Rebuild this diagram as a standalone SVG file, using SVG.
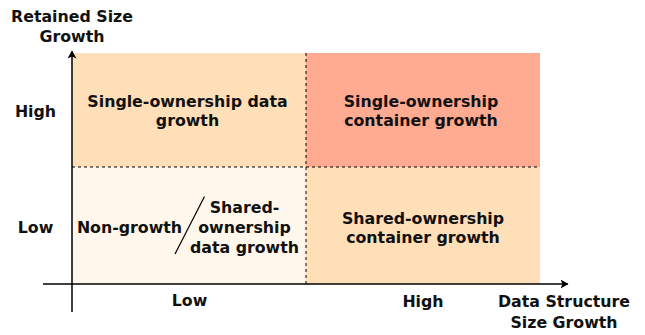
<svg xmlns="http://www.w3.org/2000/svg" width="645" height="335" viewBox="0 0 645 335">
<style>
text{font-family:"DejaVu Sans","Liberation Sans",sans-serif;font-weight:bold;font-size:15.8px;fill:#111;text-anchor:middle}
.dash{stroke:#000;stroke-width:1;stroke-dasharray:3 3;fill:none}
.axis{stroke:#000;stroke-width:1.5;fill:none}
</style>
<defs>
<marker id="arr" viewBox="0 0 8 9" refX="7.5" refY="4.5" markerWidth="8" markerHeight="9" markerUnits="userSpaceOnUse" orient="auto">
<path d="M0,0 L8,4.5 L0,9 L2,4.5 Z" fill="#000"/>
</marker>
</defs>
<g id="q-top-left">
<rect x="72" y="53" width="234" height="114" fill="#FFDFB8"/>
<text x="187.5" y="107">Single-ownership data</text>
<text x="187.5" y="126">growth</text>
</g>
<g id="q-top-right">
<rect x="306" y="53" width="234" height="114" fill="#FFAB91"/>
<text x="421" y="107">Single-ownership</text>
<text x="421" y="126">container growth</text>
</g>
<g id="q-bottom-left">
<rect x="72" y="167" width="234" height="117" fill="#FFF7EB"/>
<text x="129.5" y="233">Non-growth</text>
<text x="244.5" y="213">Shared-</text>
<text x="244.5" y="233">ownership</text>
<text x="244.5" y="252.5">data growth</text>
<line x1="204.5" y1="196.5" x2="175" y2="254" stroke="#000" stroke-width="1.2"/>
</g>
<g id="q-bottom-right">
<rect x="306" y="167" width="234" height="117" fill="#FFDFB8"/>
<text x="423" y="224">Shared-ownership</text>
<text x="423" y="243">container growth</text>
</g>
<g id="grid">
<line class="dash" x1="72" y1="167" x2="540" y2="167"/>
<line class="dash" x1="306" y1="53" x2="306" y2="284"/>
</g>
<g id="connectors">
<line class="axis" x1="72" y1="312" x2="72" y2="51" marker-end="url(#arr)"/>
<line class="axis" x1="43" y1="284" x2="568" y2="284" marker-end="url(#arr)"/>
</g>
<g id="labels">
<text x="72" y="21.5">Retained Size</text>
<text x="72" y="41.5">Growth</text>
<text x="35.5" y="117">High</text>
<text x="35.5" y="233">Low</text>
<text x="189.5" y="306">Low</text>
<text x="423" y="306.5">High</text>
<text x="564" y="306.5">Data Structure</text>
<text x="564" y="328">Size Growth</text>
</g>
</svg>
